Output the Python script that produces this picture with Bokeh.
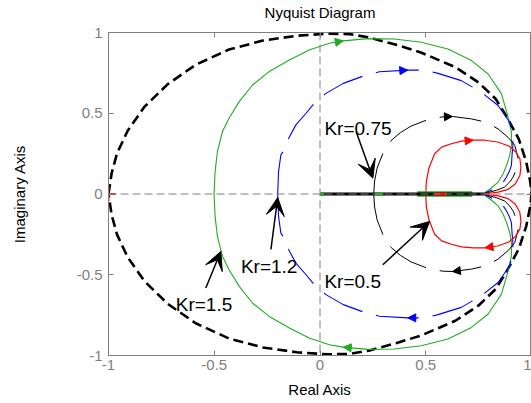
from bokeh.plotting import figure
from bokeh.models import (Range1d, Arrow, VeeHead, NormalHead, ColumnDataSource,
                          FixedTicker, Span, LinearAxis, CustomJSTickFormatter)
from bokeh.core.properties import value
from bokeh.embed import file_html
from bokeh.resources import INLINE

FONT = "Liberation Sans"
GRAY = "#7f7f7f"
GREEN = "#22aa22"

# Upper half (positive frequencies) of each Nyquist locus, from its left
# crossing of the real axis round to the common end point on the right.
green_re = [-0.501, -0.496, -0.485, -0.461, -0.430, -0.382, -0.319, -0.240, -0.145, -0.051,
            0.044, 0.110, 0.226, 0.352, 0.479, 0.605, 0.716, 0.795, 0.858, 0.890,
            0.905, 0.905, 0.897, 0.882, 0.866, 0.842, 0.810, 0.771]
green_im = [0.000, 0.139, 0.263, 0.387, 0.469, 0.572, 0.675, 0.758, 0.830, 0.892,
            0.933, 0.948, 0.962, 0.960, 0.940, 0.898, 0.826, 0.743, 0.620, 0.475,
            0.383, 0.301, 0.239, 0.177, 0.125, 0.074, 0.037, 0.000]

blue_re = [-0.200, -0.196, -0.185, -0.169, -0.148, -0.114, -0.066, -0.027, 0.028, 0.110,
           0.210, 0.281, 0.415, 0.494, 0.558, 0.668, 0.763, 0.842, 0.897, 0.912,
           0.912, 0.908, 0.905, 0.897, 0.882, 0.858, 0.818, 0.771]
blue_im = [0.000, 0.139, 0.242, 0.273, 0.345, 0.428, 0.500, 0.562, 0.623, 0.685,
           0.733, 0.757, 0.767, 0.767, 0.747, 0.702, 0.630, 0.548, 0.444, 0.370,
           0.300, 0.241, 0.177, 0.146, 0.105, 0.057, 0.029, 0.000]

black_re = [0.254, 0.258, 0.270, 0.297, 0.336, 0.380, 0.430, 0.518, 0.582, 0.626,
            0.716, 0.787, 0.842, 0.890, 0.921, 0.937, 0.929, 0.913, 0.897, 0.873,
            0.834, 0.771]
black_im = [0.000, 0.080, 0.160, 0.250, 0.331, 0.380, 0.420, 0.465, 0.478, 0.480,
            0.465, 0.444, 0.403, 0.350, 0.301, 0.218, 0.156, 0.105, 0.074, 0.043,
            0.023, 0.000]

red_re = [0.500, 0.503, 0.515, 0.542, 0.575, 0.621, 0.670, 0.724, 0.780, 0.840,
          0.893, 0.925, 0.945, 0.950, 0.945, 0.924, 0.890, 0.842, 0.771]
red_im = [0.000, 0.080, 0.160, 0.249, 0.290, 0.311, 0.327, 0.333, 0.333, 0.322,
          0.297, 0.262, 0.218, 0.167, 0.115, 0.064, 0.029, 0.012, 0.000]

# index of the direction arrow on the upper / lower half of each locus
arrow_index = {"green": (11, 11), "blue": (12, 12), "black": (9, 9), "red": (7, 8)}

# unit circle reference (upper half)
circle_re = [-1.000, -0.985, -0.960, -0.910, -0.830, -0.720, -0.588, -0.430, -0.270, -0.110,
             0.040, 0.140, 0.230, 0.370, 0.480, 0.640, 0.750, 0.830, 0.880, 0.940,
             0.975, 0.995, 1.000]
circle_im = [0.000, 0.130, 0.250, 0.390, 0.540, 0.680, 0.800, 0.895, 0.950, 0.980,
             0.993, 0.990, 0.970, 0.920, 0.875, 0.785, 0.690, 0.590, 0.485, 0.340,
             0.200, 0.070, 0.000]

# portions of the loci lying on the real axis
axis_black = (0.0, 0.775)
axis_green_wide = (0.46, 0.72)
axis_green_short = [(0.0, 0.02), (0.26, 0.30)]
axis_red = (0.54, 0.60)

critical_point = (-1.0, 0.0)

# gain annotations
kr_labels = ["Kr=1.5", "Kr=1.2", "Kr=0.75", "Kr=0.5"]
kr_text_re = [-0.682, -0.374, 0.021, 0.021]
kr_text_im = [-0.683, -0.448, 0.407, -0.541]
kr_tail_re = [-0.540, -0.232, 0.171, 0.297]
kr_tail_im = [-0.582, -0.343, 0.386, -0.438]
kr_tip_re = [-0.469, -0.200, 0.250, 0.518]
kr_tip_im = [-0.356, -0.022, 0.098, -0.170]

ticks = [-1, -0.5, 0, 0.5, 1]

p = figure(width=531, height=403, output_backend="svg", toolbar_location=None,
           x_range=Range1d(-1, 1), y_range=Range1d(-1, 1),
           min_border_left=108, min_border_right=0, min_border_top=31, min_border_bottom=48,
           x_axis_label="Real Axis", y_axis_label="Imaginary Axis")
p.background_fill_color = "white"
p.border_fill_color = "white"
p.grid.visible = False
p.outline_line_color = GRAY
p.outline_line_width = 1

fmt = CustomJSTickFormatter(code="return tick.toString();")
for ax in (p.xaxis[0], p.yaxis[0]):
    ax.ticker = FixedTicker(ticks=ticks)
    ax.formatter = fmt
    ax.major_label_text_font = FONT
    ax.major_label_text_font_size = "15px"
    ax.major_label_text_color = GRAY
    ax.axis_line_color = GRAY
    ax.major_tick_line_color = GRAY
    ax.major_tick_in = 5
    ax.major_tick_out = 0
    ax.minor_tick_line_color = None
    ax.axis_label_text_font = FONT
    ax.axis_label_text_font_size = "15px"
    ax.axis_label_text_font_style = "normal"
    ax.axis_label_text_color = "black"
p.xaxis[0].major_label_standoff = 4
p.xaxis[0].axis_label_standoff = 8
p.yaxis[0].major_label_standoff = 6
p.yaxis[0].axis_label_standoff = 46

# tick marks on the top and right edges of the box; the top one carries the title
for side in ("above", "right"):
    ax = LinearAxis(ticker=FixedTicker(ticks=ticks), major_label_text_font_size="1px",
                    major_label_text_color=None, major_label_standoff=0,
                    axis_line_color=None, major_tick_line_color=GRAY,
                    major_tick_in=5, major_tick_out=0, minor_tick_line_color=None)
    if side == "above":
        ax.axis_label = "Nyquist Diagram"
        ax.axis_label_text_font = FONT
        ax.axis_label_text_font_size = "15px"
        ax.axis_label_text_font_style = "normal"
        ax.axis_label_text_color = "black"
        ax.axis_label_standoff = 12
    p.add_layout(ax, side)

# dashed zero lines
for dim in ("width", "height"):
    p.add_layout(Span(location=0, dimension=dim, line_color=GRAY, line_width=1,
                      line_dash="8 4"))

# unit circle
c_re = circle_re + circle_re[::-1][1:]
c_im = circle_im + [-v for v in circle_im[::-1][1:]]
p.line(c_re, c_im, line_color="black", line_width=2.6, line_dash="10 5")

curves = {
    "green": (green_re, green_im, GREEN, None, 1.1),
    "blue": (blue_re, blue_im, "#0000ff", "43 14", 1.1),
    "black": (black_re, black_im, "black", "42 14", 1.0),
    "red": (red_re, red_im, "#ff0000", None, 1.2),
}

for name, (re, im, color, dash, lw) in curves.items():
    lower_im = [-v for v in im]
    if dash is None:
        # closed solid locus: upper half, then the mirrored lower half back
        p.line(re + re[::-1], im + lower_im[::-1], line_color=color, line_width=lw,
               line_join="round")
    else:
        # dashed locus: both halves start from the real-axis crossing
        p.line(re, im, line_color=color, line_width=lw, line_dash=dash, line_join="round")
        p.line(re, lower_im, line_color=color, line_width=lw, line_dash=dash,
               line_join="round")

# real-axis portions
p.line(list(axis_green_wide), [0, 0], line_color=GREEN, line_width=5.5)
p.line(list(axis_black), [0, 0], line_color="black", line_width=3)
for seg in axis_green_short:
    p.line(list(seg), [0, 0], line_color=GREEN, line_width=3)
p.line(list(axis_red), [0, 0], line_color="#ff0000", line_width=3)

# direction arrows on the loci
for name, (re, im, color, dash, lw) in curves.items():
    iu, il = arrow_index[name]
    src = ColumnDataSource(dict(
        xs=[re[iu - 1], re[il + 1]], ys=[im[iu - 1], -im[il + 1]],
        xe=[re[iu], re[il]], ye=[im[iu], -im[il]]))
    p.add_layout(Arrow(end=NormalHead(size=8, fill_color=color, line_color=color),
                       x_start="xs", y_start="ys", x_end="xe", y_end="ye",
                       source=src, line_alpha=0))

# critical point
p.scatter([critical_point[0]], [critical_point[1]], marker="cross", size=14,
          line_color="#ff0000", line_width=2)

# gain annotations
kr_src = ColumnDataSource(dict(xs=kr_tail_re, ys=kr_tail_im, xe=kr_tip_re, ye=kr_tip_im))
p.add_layout(Arrow(end=VeeHead(size=18, fill_color="black", line_color="black"),
                   x_start="xs", y_start="ys", x_end="xe", y_end="ye",
                   source=kr_src, line_color="black", line_width=1.5))
p.text(x=kr_text_re, y=kr_text_im, text=kr_labels, text_font=value(FONT),
       text_font_size="19px", text_color="black", text_baseline="alphabetic",
       text_align="left")

open("out.html", "w").write(file_html(p, INLINE))
